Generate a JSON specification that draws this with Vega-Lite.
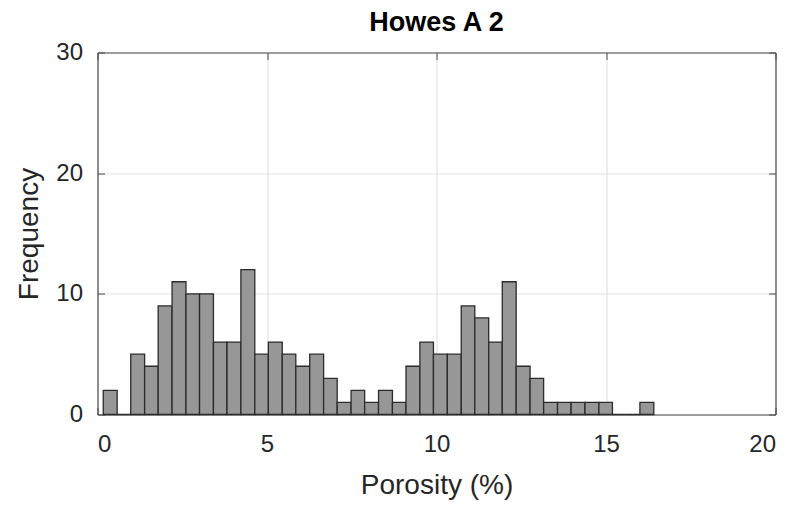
{
  "$schema": "https://vega.github.io/schema/vega-lite/v6.json",
  "width": 678,
  "height": 362,
  "autosize": "none",
  "padding": {"left": 97.5, "top": 52.5, "right": 19.5, "bottom": 91.5},
  "background": "white",
  "config": {
    "font": "Liberation Sans",
    "view": {"stroke": null},
    "axis": {
      "labelFont": "Liberation Sans",
      "titleFont": "Liberation Sans",
      "labelColor": "#262626",
      "titleColor": "#262626",
      "domainColor": "#4d4d4d",
      "tickColor": "#4d4d4d",
      "domainWidth": 1.2,
      "tickWidth": 1,
      "gridColor": "#e3e3e3",
      "gridWidth": 1.2
    }
  },
  "title": {
    "text": "Howes A 2",
    "font": "Liberation Sans",
    "fontSize": 27,
    "fontWeight": "bold",
    "color": "#000000",
    "anchor": "middle",
    "offset": 4
  },
  "data": {
    "values": [
      {"start": 0.17, "end": 0.58, "count": 2},
      {"start": 0.58, "end": 0.98, "count": 0},
      {"start": 0.98, "end": 1.39, "count": 5},
      {"start": 1.39, "end": 1.79, "count": 4},
      {"start": 1.79, "end": 2.20, "count": 9},
      {"start": 2.20, "end": 2.61, "count": 11},
      {"start": 2.61, "end": 3.01, "count": 10},
      {"start": 3.01, "end": 3.42, "count": 10},
      {"start": 3.42, "end": 3.82, "count": 6},
      {"start": 3.82, "end": 4.23, "count": 6},
      {"start": 4.23, "end": 4.64, "count": 12},
      {"start": 4.64, "end": 5.04, "count": 5},
      {"start": 5.04, "end": 5.45, "count": 6},
      {"start": 5.45, "end": 5.85, "count": 5},
      {"start": 5.85, "end": 6.26, "count": 4},
      {"start": 6.26, "end": 6.67, "count": 5},
      {"start": 6.67, "end": 7.07, "count": 3},
      {"start": 7.07, "end": 7.48, "count": 1},
      {"start": 7.48, "end": 7.88, "count": 2},
      {"start": 7.88, "end": 8.29, "count": 1},
      {"start": 8.29, "end": 8.70, "count": 2},
      {"start": 8.70, "end": 9.10, "count": 1},
      {"start": 9.10, "end": 9.51, "count": 4},
      {"start": 9.51, "end": 9.91, "count": 6},
      {"start": 9.91, "end": 10.32, "count": 5},
      {"start": 10.32, "end": 10.73, "count": 5},
      {"start": 10.73, "end": 11.13, "count": 9},
      {"start": 11.13, "end": 11.54, "count": 8},
      {"start": 11.54, "end": 11.94, "count": 6},
      {"start": 11.94, "end": 12.35, "count": 11},
      {"start": 12.35, "end": 12.76, "count": 4},
      {"start": 12.76, "end": 13.16, "count": 3},
      {"start": 13.16, "end": 13.57, "count": 1},
      {"start": 13.57, "end": 13.97, "count": 1},
      {"start": 13.97, "end": 14.38, "count": 1},
      {"start": 14.38, "end": 14.79, "count": 1},
      {"start": 14.79, "end": 15.19, "count": 1},
      {"start": 15.19, "end": 15.60, "count": 0},
      {"start": 15.60, "end": 16.00, "count": 0},
      {"start": 16.00, "end": 16.41, "count": 1}
    ]
  },
  "layer": [
    {
      "mark": {"type": "bar", "fill": "#979797", "stroke": "#2b2b2b", "strokeWidth": 1.3},
      "encoding": {
        "x": {
          "field": "start",
          "type": "quantitative",
          "scale": {"domain": [0, 20], "nice": false, "zero": false},
          "axis": {
            "orient": "bottom",
            "values": [0, 5, 10, 15, 20],
            "grid": true,
            "tickSize": -7,
            "labelPadding": 25,
            "labelFontSize": 24,
            "title": "Porosity (%)",
            "titleFontSize": 28,
            "titleFontWeight": "normal",
            "titlePadding": 15
          }
        },
        "x2": {"field": "end"},
        "y": {
          "field": "count",
          "type": "quantitative",
          "scale": {"domain": [0, 30], "nice": false},
          "axis": {
            "orient": "left",
            "values": [0, 10, 20, 30],
            "grid": true,
            "tickSize": -7,
            "labelPadding": 22,
            "labelFontSize": 24,
            "title": "Frequency",
            "titleFontSize": 28,
            "titleFontWeight": "normal",
            "titlePadding": 12
          }
        },
        "y2": {"datum": 0}
      }
    },
    {
      "mark": {"type": "bar", "opacity": 0},
      "encoding": {
        "x": {
          "field": "start",
          "type": "quantitative",
          "axis": {"orient": "top", "values": [0, 5, 10, 15, 20], "labels": false, "grid": false, "tickSize": -7, "title": null, "zindex": 1}
        },
        "x2": {"field": "end"},
        "y": {
          "field": "count",
          "type": "quantitative",
          "axis": {"orient": "right", "values": [0, 10, 20, 30], "labels": false, "grid": false, "tickSize": -7, "title": null, "zindex": 1}
        },
        "y2": {"datum": 0}
      }
    }
  ],
  "resolve": {"axis": {"x": "independent", "y": "independent"}}
}
